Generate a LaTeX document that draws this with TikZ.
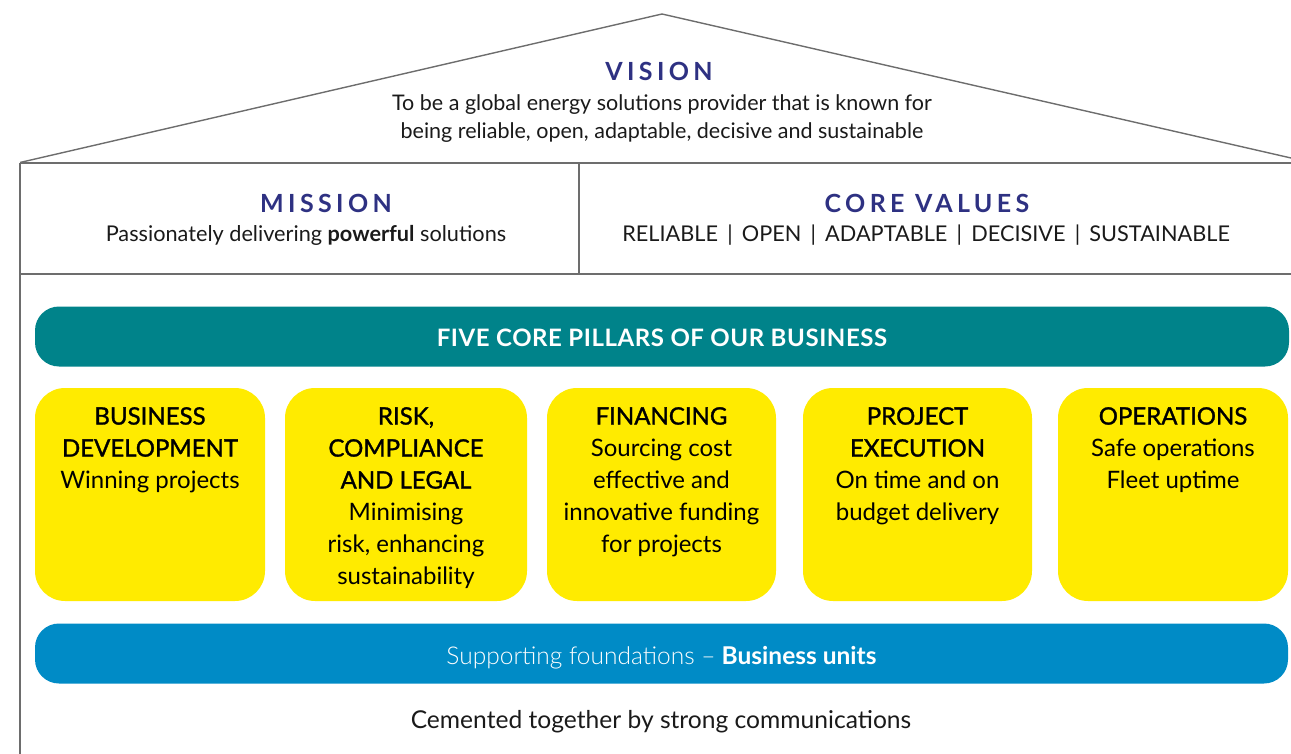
\documentclass[tikz,border=0pt]{standalone}
\usepackage{fontspec}
\setmainfont{Lato}
\newfontfamily\medfont{Lato}[FakeBold=1.3]
\newfontfamily\lightfont{Lato Light}
\newfontfamily\titlefont{Lato}[LetterSpace=17.5]
\newfontfamily\bandfont{Lato}[LetterSpace=2.4]
\definecolor{navy}{HTML}{2E3182}
\definecolor{teal}{HTML}{00838A}
\definecolor{sun}{HTML}{FFEB00}
\definecolor{ocean}{HTML}{008BC6}
\definecolor{wall}{HTML}{6D6D6D}
\definecolor{ink}{HTML}{1A1A1A}
\newcommand\pt[1]{{\medfont #1}}
\begin{document}
\begin{tikzpicture}[x=1pt,y=-1pt,
  outline/.style={draw=wall,line width=1.4pt},
  heading/.style={inner sep=0pt,text=navy,font=\titlefont\bfseries\fontsize{25}{28}\selectfont},
  bodytext/.style={inner sep=0pt,text=ink,align=center},
  band/.style={rectangle,rounded corners=24pt,minimum height=60pt,inner sep=0pt,text=white},
  pillar/.style={rectangle,rounded corners=30pt,fill=sun,minimum height=213pt,inner sep=0pt},
  pillartext/.style={inner sep=0pt,anchor=north,align=center,text=black,font=\fontsize{24}{32}\selectfont}]
\useasboundingbox (0,0) rectangle (1291,754);

% house outline: roof, eave, walls and the mission / values band
\draw[outline] (20,162.5) -- (662,14) -- (1291,158);
\draw[outline] (20,163) -- (1291,163);
\draw[outline] (20,163) -- (20,754);
\draw[outline] (579,163) -- (579,274);
\draw[outline] (19,274) -- (1291,274);

% vision under the roof
\node[heading] (vision) at (659,71) {VISION};
\node[bodytext,font=\fontsize{21.5}{28}\selectfont] (visiontext) at (662,119)
  {To be a global energy solutions provider that is known for\\being reliable, open, adaptable, decisive and sustainable};

% mission and core values
\node[heading] (mission) at (326,203) {MISSION};
\node[bodytext,font=\fontsize{21.7}{24}\selectfont] (missiontext) at (306,235.5)
  {Passionately delivering \textbf{powerful} solutions};
\node[heading] (values) at (927,203) {CORE VALUES};
\node[bodytext,font=\fontsize{21.7}{24}\selectfont] (valuestext) at (926,235.5)
  {RELIABLE \,|\, OPEN \,|\, ADAPTABLE \,|\, DECISIVE \,|\, SUSTAINABLE};

% pillars header band
\node[band,fill=teal,minimum width=1254pt,text height=19pt,text depth=0pt,font=\bandfont\bfseries\fontsize{24}{26}\selectfont] (pillars) at (662,336.5) {FIVE CORE PILLARS OF OUR BUSINESS};

% the five pillars
\node[pillar,minimum width=230pt] (p1) at (150,494.5) {};
\node[pillar,minimum width=242pt] (p2) at (406,494.5) {};
\node[pillar,minimum width=229pt] (p3) at (661.5,494.5) {};
\node[pillar,minimum width=229pt] (p4) at (917.5,494.5) {};
\node[pillar,minimum width=230pt] (p5) at (1173,494.5) {};

\node[pillartext] (t1) at (p1.center |- 0,407) {\pt{BUSINESS}\\\pt{DEVELOPMENT}\\Winning projects};
\node[pillartext] (t2) at (p2.center |- 0,407) {\pt{RISK,}\\\pt{COMPLIANCE}\\\pt{AND LEGAL}\\Minimising\\risk, enhancing\\sustainability};
\node[pillartext] (t3) at (p3.center |- 0,407) {\pt{FINANCING}\\Sourcing cost\\effective and\\innovative funding\\for projects};
\node[pillartext] (t4) at (p4.center |- 0,407) {\pt{PROJECT}\\\pt{EXECUTION}\\On time and on\\budget delivery};
\node[pillartext] (t5) at (p5.center |- 0,407) {\pt{OPERATIONS}\\Safe operations\\Fleet uptime};

% foundations band
\node[band,fill=ocean,minimum width=1253pt,text height=21pt,text depth=0pt,font=\fontsize{24.5}{26}\selectfont] (found) at (661.5,653.5) {{\lightfont Supporting foundations –} \textbf{Business units}};

\node[bodytext,font=\fontsize{24.6}{28}\selectfont] (cement) at (661,721.5) {Cemented together by strong communications};
\end{tikzpicture}
\end{document}
